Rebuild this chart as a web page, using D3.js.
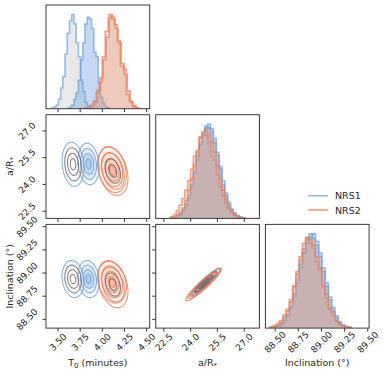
<!DOCTYPE html>
<html>
<head>
<meta charset="utf-8">
<script src="https://cdn.jsdelivr.net/npm/d3@7"></script>
<style>
  body { margin: 0; background: #fff; }
  text { font-family: "DejaVu Sans", sans-serif; fill: #262626; }
</style>
</head>
<body>
<svg width="385" height="374"></svg>
<script>
// ---- data ----
var t0Domain = [3.37, 4.54],
    arDomain = [22.07, 27.88],
    incDomain = [88.40, 89.52];

var t0Ticks = [3.50, 3.75, 4.00, 4.25, 4.50];
var arTicks = [22.5, 24.0, 25.5, 27.0];
var incTicks = [88.50, 88.75, 89.00, 89.25, 89.50];

var legendNames = ["NRS1", "NRS2"];

// 1D histograms: first bin edge, bin width, counts
var t0HistA = {start: 3.435, width: 0.025, counts: [1, 2, 4, 10, 22, 34, 58, 80, 93, 100, 90, 70, 55, 30, 18, 7, 3, 1, 0.4]};
var t0HistB = {start: 3.61, width: 0.025, counts: [0.5, 1.5, 4, 10, 17, 30, 52, 70, 90, 97, 95, 85, 60, 55, 27, 12, 6, 2, 1]};
var t0HistC = {start: 3.80, width: 0.034, counts: [0.5, 1.5, 4, 8, 17, 28, 55, 82, 96, 98, 89, 72, 45, 42, 15, 8, 3, 1]};
var t0HistD = {start: 3.81, width: 0.034, counts: [0.3, 1, 3, 7, 20, 33, 52, 76, 100, 95, 85, 70, 48, 36, 19, 7, 2.5, 0.8]};

var arHistA = {start: 22.9, width: 0.16, counts: [0.4, 1, 2, 4.5, 9, 13, 24, 34, 50, 62, 80, 88, 98, 96, 95, 80, 70, 52, 40, 24, 17, 9, 6, 2.5, 1.2, 0.5]};
var arHistB = {start: 22.9, width: 0.16, counts: [0.5, 1, 2.5, 4, 8, 15, 22, 36, 48, 66, 78, 90, 96, 100, 92, 85, 67, 55, 36, 27, 15, 10, 5, 3, 1.5, 0.5]};
var arHistC = {start: 22.9, width: 0.16, counts: [2, 4, 8, 14, 21, 30, 40, 52, 66, 70, 86, 90, 88, 80, 66, 62, 46, 34, 24, 16, 10, 6, 3.5, 2, 1, 0.4]};
var arHistD = {start: 22.9, width: 0.16, counts: [0.8, 1.8, 3.5, 6, 11, 19, 30, 42, 57, 72, 86, 92, 94, 90, 82, 70, 56, 42, 30, 20, 12, 7, 4, 2, 1, 0.4]};

var incHistA = {start: 88.45, width: 0.035, counts: [0.3, 0.8, 2.5, 4.5, 7, 15, 24, 33, 52, 64, 84, 90, 100, 95, 92, 76, 64, 44, 33, 18, 13, 6, 3.5, 1.5, 0.8]};
var incHistB = {start: 88.45, width: 0.035, counts: [0.4, 1, 2, 4, 9, 13, 22, 36, 48, 68, 80, 94, 97, 100, 88, 80, 60, 48, 30, 22, 11, 7, 3, 2, 0.6]};
var incHistC = {start: 88.45, width: 0.035, counts: [1.5, 3, 5, 8, 14, 18, 28, 45, 57, 72, 80, 96, 90, 84, 70, 64, 44, 36, 20, 16, 8, 5, 2.5, 1, 0.5]};
var incHistD = {start: 88.45, width: 0.035, counts: [0.8, 1.5, 3.5, 6.5, 12, 20, 30, 44, 60, 76, 90, 96, 94, 88, 76, 62, 46, 32, 21, 13, 7, 4, 2, 1, 0.5]};

// 2D contours: centre, spread and correlation of each cloud
var ellT0Ar = [
  {s: "A", cx: 3.675, cy: 25.10, sx: 0.062, sy: 0.62, rho: -0.15},
  {s: "B", cx: 3.850, cy: 25.12, sx: 0.060, sy: 0.58, rho: -0.15},
  {s: "C", cx: 4.125, cy: 24.72, sx: 0.085, sy: 0.68, rho: -0.30},
  {s: "D", cx: 4.115, cy: 24.80, sx: 0.080, sy: 0.64, rho: -0.25}
];
var ellT0Inc = [
  {s: "A", cx: 3.675, cy: 88.93, sx: 0.062, sy: 0.100, rho: -0.15},
  {s: "B", cx: 3.850, cy: 88.93, sx: 0.060, sy: 0.100, rho: -0.15},
  {s: "C", cx: 4.125, cy: 88.87, sx: 0.085, sy: 0.125, rho: -0.30},
  {s: "D", cx: 4.115, cy: 88.90, sx: 0.080, sy: 0.115, rho: -0.25}
];
var ellArInc = [
  {s: "A", cx: 24.85, cy: 88.90, sx: 0.42, sy: 0.075, rho: 0.95},
  {s: "B", cx: 24.90, cy: 88.90, sx: 0.40, sy: 0.072, rho: 0.95},
  {s: "C", cx: 24.75, cy: 88.87, sx: 0.50, sy: 0.088, rho: 0.94},
  {s: "D", cx: 24.80, cy: 88.88, sx: 0.46, sy: 0.082, rho: 0.94}
];
var levels = [2, 1.5, 1, 0.5];

// ---- styles ----
var blue = "#6fa3de", orange = "#ee7e57", greyLine = "#6e6e6e";
var style = {
  A: {line: blue, fill: "#d4d4d4", fillOp: 0.5, filled: false},
  B: {line: blue, fill: blue, fillOp: 0.4, filled: true},
  C: {line: orange, fill: "#d4d4d4", fillOp: 0.35, filled: false},
  D: {line: orange, fill: "#e8906c", fillOp: 0.4, filled: true}
};
var tickColor = "#262626";

var svg = d3.select("svg");
var padLeft = 46, padTop = 5, size = 103.7, gap = 6;

var domains = [t0Domain, arDomain, incDomain];
var ticks = [t0Ticks, arTicks, incTicks];
var fmts = [d3.format(".2f"), d3.format(".1f"), d3.format(".2f")];
var hists = [
  [["A", t0HistA], ["C", t0HistC], ["B", t0HistB], ["D", t0HistD]],
  [["A", arHistA], ["C", arHistC], ["B", arHistB], ["D", arHistD]],
  [["A", incHistA], ["C", incHistC], ["B", incHistB], ["D", incHistD]]
];
var pairs = {"1-0": ellT0Ar, "2-0": ellT0Inc, "2-1": ellArInc};

function xScale(j) { return d3.scaleLinear().domain(domains[j]).range([0, size]); }
function yScale(i) { return d3.scaleLinear().domain(domains[i]).range([size, 0]); }

function ellipsePts(e, r) {
  var pts = [], k = Math.sqrt(1 - e.rho * e.rho);
  for (var n = 0; n < 90; n++) {
    var t = 2 * Math.PI * n / 90;
    pts.push([e.cx + r * e.sx * Math.cos(t),
              e.cy + r * e.sy * (e.rho * Math.cos(t) + k * Math.sin(t))]);
  }
  return pts;
}

function styleTickText(sel, shift) {
  sel.selectAll(".tick text")
    .attr("x", 0).attr("y", 0).attr("dy", "0.35em")
    .attr("text-anchor", "middle")
    .attr("transform", shift + " rotate(-45)")
    .attr("fill", tickColor)
    .attr("font-family", null)
    .style("font-size", "9px");
}

for (var i = 0; i < 3; i++) {
  for (var j = 0; j <= i; j++) {
    var g = svg.append("g")
        .attr("transform", "translate(" + (padLeft + j * (size + gap)) + "," + (padTop + i * (size + gap)) + ")");
    var cid = "clip" + i + j;
    g.append("clipPath").attr("id", cid)
      .append("rect").attr("width", size).attr("height", size);
    var body = g.append("g").attr("clip-path", "url(#" + cid + ")");
    var x = xScale(j), y;

    if (i === j) {
      var ymax = d3.max(hists[i], function(h) { return d3.max(h[1].counts); }) * 1.1;
      y = d3.scaleLinear().domain([0, ymax]).range([size, 0]);
      hists[i].forEach(function(h) {
        var st = style[h[0]], hd = h[1];
        var pts = [[hd.start, 0]];
        hd.counts.forEach(function(c, k) { pts.push([hd.start + k * hd.width, c]); });
        pts.push([hd.start + hd.counts.length * hd.width, 0]);
        body.append("path")
          .attr("d", d3.area().x(function(d) { return x(d[0]); }).y0(y(0)).y1(function(d) { return y(d[1]); })
            .curve(d3.curveStepAfter)(pts))
          .attr("fill", st.fill).attr("fill-opacity", st.fillOp);
        body.append("path")
          .attr("d", d3.line().x(function(d) { return x(d[0]); }).y(function(d) { return y(d[1]); })
            .curve(d3.curveStepAfter)(pts))
          .attr("fill", "none").attr("stroke", st.line).attr("stroke-width", 1.6)
          .attr("stroke-opacity", 0.7);
      });
    } else {
      y = yScale(i);
      var ells = pairs[i + "-" + j];
      var line = d3.line().x(function(d) { return x(d[0]); }).y(function(d) { return y(d[1]); })
          .curve(d3.curveLinearClosed);
      // filled contours
      ells.forEach(function(e) {
        var st = style[e.s];
        if (!st.filled) return;
        levels.forEach(function(r, li) {
          body.append("path").attr("d", line(ellipsePts(e, r)))
            .attr("fill", d3.interpolateRgb("#ffffff", st.line)(0.1 + 0.17 * li))
            .attr("fill-opacity", 0.75);
        });
      });
      // contour lines
      ["B", "D", "A", "C"].forEach(function(s) {
        ells.filter(function(e) { return e.s === s; }).forEach(function(e) {
          var st = style[e.s];
          levels.forEach(function(r, li) {
            var col = st.line;
            if (!st.filled && li > 0) col = greyLine;
            if (!st.filled && e.s === "C" && li === 1) col = st.line;
            body.append("path").attr("d", line(ellipsePts(e, r)))
              .attr("fill", "none").attr("stroke", col).attr("stroke-width", 1.1)
              .attr("stroke-opacity", 0.85);
          });
        });
      });
      // left axis
      var ay = g.append("g").call(d3.axisLeft(y).tickValues(ticks[i]).tickSize(3.5)
          .tickFormat(j === 0 ? fmts[i] : ""));
      ay.select(".domain").remove();
      ay.selectAll(".tick line").attr("stroke", "#333");
      styleTickText(ay, "translate(-19,0)");
    }

    // bottom axis
    var ax = g.append("g").attr("transform", "translate(0," + size + ")")
      .call(d3.axisBottom(x).tickValues(ticks[j]).tickSize(3.5)
        .tickFormat(i === 2 ? fmts[j] : ""));
    ax.select(".domain").remove();
    ax.selectAll(".tick line").attr("stroke", "#333");
    styleTickText(ax, "translate(0,14)");

    g.append("rect").attr("width", size).attr("height", size)
      .attr("fill", "none").attr("stroke", "#3a3a3a").attr("stroke-width", 1);
  }
}

// axis titles
function colX(j) { return padLeft + j * (size + gap) + size / 2; }
function rowY(i) { return padTop + i * (size + gap) + size / 2; }

var t0 = svg.append("text").attr("x", colX(0)).attr("y", 366).attr("text-anchor", "middle").style("font-size", "9.5px");
t0.append("tspan").text("T");
t0.append("tspan").attr("dy", 2).style("font-size", "7px").text("0");
t0.append("tspan").attr("dy", -2).text(" (minutes)");

var ar = svg.append("text").attr("x", colX(1)).attr("y", 366).attr("text-anchor", "middle").style("font-size", "9.5px");
ar.append("tspan").text("a/R");
ar.append("tspan").attr("dy", 2).style("font-size", "7px").text("*");

svg.append("text").attr("x", colX(2)).attr("y", 366).attr("text-anchor", "middle")
  .style("font-size", "9.5px").text("Inclination (°)");

var ary = svg.append("text").attr("transform", "translate(13," + rowY(1) + ") rotate(-90)")
  .attr("text-anchor", "middle").style("font-size", "9.5px");
ary.append("tspan").text("a/R");
ary.append("tspan").attr("dy", 2).style("font-size", "7px").text("*");

svg.append("text").attr("transform", "translate(13," + rowY(2) + ") rotate(-90)")
  .attr("text-anchor", "middle").style("font-size", "9.5px").text("Inclination (°)");

// legend
var legColors = [blue, orange];
legendNames.forEach(function(name, k) {
  var ly = 195.7 + k * 14.3;
  svg.append("line").attr("x1", 308).attr("x2", 328).attr("y1", ly).attr("y2", ly)
    .attr("stroke", legColors[k]).attr("stroke-width", 1.5).attr("stroke-opacity", 0.8);
  svg.append("text").attr("x", 335).attr("y", ly + 3.5).style("font-size", "9.5px").text(name);
});
</script>
</body>
</html>
